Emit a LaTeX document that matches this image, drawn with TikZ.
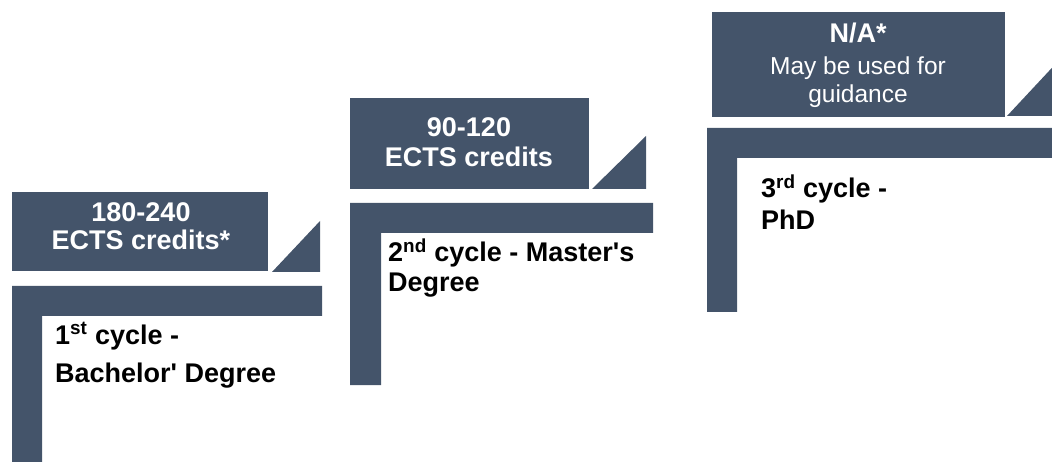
\documentclass[tikz,border=0pt]{standalone}
\usepackage{fontspec}
\setmainfont{Liberation Sans}
\definecolor{slate}{HTML}{44546A}
\begin{document}
\begin{tikzpicture}[x=1pt,y=-1pt,
  band/.style={fill=slate},
  headline/.style={anchor=base, text=white, inner sep=0pt,
    font=\fontsize{27}{27}\selectfont\bfseries},
  headnote/.style={headline, font=\fontsize{24.5}{24.5}\selectfont},
  cycletext/.style={anchor=base west, text=black, inner sep=0pt,
    font=\fontsize{27}{27}\selectfont\bfseries}]
\useasboundingbox (0,0) rectangle (1052,462);
\clip (0,0) rectangle (1052,462);

% first cycle: credit panel, corner wedge and L-shaped step
\fill[band] (12,192) rectangle (268,271);
\fill[band] (272,272) -- (320,272) -- (320,221) -- cycle;
\fill[band] (12,286) -- (322,286) -- (322,316) -- (42,316) -- (42,462) -- (12,462) -- cycle;
\node[headline] (c1a) at (141,222) {180-240};
\node[headline] (c1b) at (141,250) {ECTS credits*};
\node[cycletext] (s1a) at (55,344) {1\textsuperscript{st} cycle -};
\node[cycletext] (s1b) at (55,382) {Bachelor\textquotesingle{} Degree};

% second cycle
\fill[band] (350,98) rectangle (589,189);
\fill[band] (592,189) -- (646,189) -- (646,136) -- cycle;
\fill[band] (350,203) -- (653,203) -- (653,233) -- (381,233) -- (381,385) -- (350,385) -- cycle;
\node[headline] (c2a) at (469,137) {90-120};
\node[headline] (c2b) at (469,167) {ECTS credits};
\node[cycletext] (s2a) at (388,262) {2\textsuperscript{nd} cycle - Master\textquotesingle s};
\node[cycletext] (s2b) at (388,291) {Degree};

% third cycle (runs off the right edge)
\fill[band] (712,12) rectangle (1005,117);
\fill[band] (1007,116) -- (1063,116) -- (1063,56) -- cycle;
\fill[band] (707,128) -- (1060,128) -- (1060,158) -- (737,158) -- (737,312) -- (707,312) -- cycle;
\node[headline] (c3a) at (858,43) {N/A*};
\node[headnote] (c3b) at (858,75) {May be used for};
\node[headnote] (c3c) at (858,103) {guidance};
\node[cycletext] (s3a) at (761,198) {3\textsuperscript{rd} cycle -};
\node[cycletext] (s3b) at (761,230) {PhD};
\end{tikzpicture}
\end{document}
